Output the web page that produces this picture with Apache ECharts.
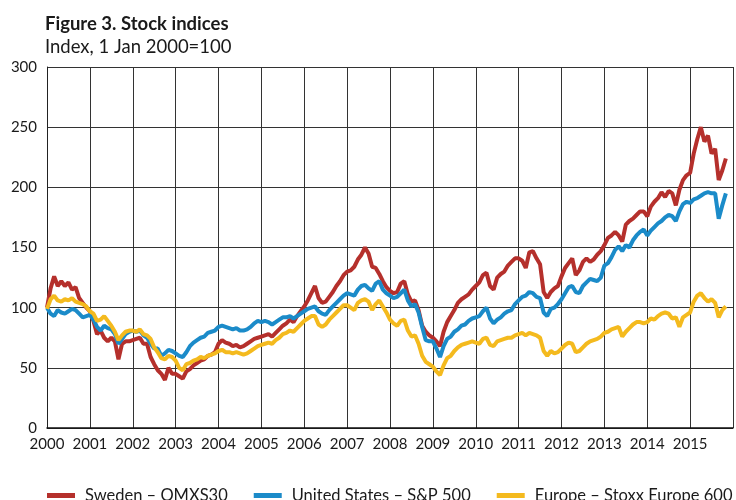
<!DOCTYPE html>
<html>
<head>
<meta charset="utf-8">
<script src="https://cdn.jsdelivr.net/npm/echarts@6/dist/echarts.min.js"></script>
<style>
  html, body { margin: 0; padding: 0; background: #fff; }
  #chart { width: 736px; height: 500px; }
</style>
</head>
<body>
<div id="chart"></div>
<script>
// monthly readings, Jan 2000 .. Nov 2015 (index, 1 Jan 2000 = 100)
var startYear = 2000;
var yearTicks = [2000, 2001, 2002, 2003, 2004, 2005, 2006, 2007, 2008, 2009, 2010, 2011, 2012, 2013, 2014, 2015];

var sweden = [
    100, 116, 126, 118, 122, 118, 121, 115, 117, 108, 104, 100,
    97, 89, 78, 81, 75, 72, 75, 72, 57, 70, 72, 72,
    73, 74, 75, 70, 70, 59, 53, 48, 45, 40, 50, 45,
    45, 43, 41, 47, 49, 52, 54, 56, 57, 60, 61, 63,
    70, 73, 71, 70, 68, 69, 67, 68, 70, 72, 74, 75,
    76, 77, 78, 76, 79, 82, 85, 87, 90, 88, 93, 97,
    101, 106, 112, 118, 108, 104, 105, 109, 113, 118, 122, 127,
    130, 131, 134, 140, 144, 150, 145, 134, 133, 128, 122, 117,
    114, 112, 113, 120, 122, 111, 105, 106, 98, 85, 80, 77,
    75, 72, 68, 80, 88, 93, 98, 104, 107, 109, 111, 115,
    118, 121, 127, 129, 118, 115, 125, 128, 130, 135, 138, 141,
    141, 139, 133, 146, 147, 141, 136, 113, 108, 113, 116, 118,
    126, 133, 137, 141, 127, 131, 138, 141, 138, 140, 144, 147,
    152, 158, 160, 163, 160, 155, 169, 172, 174, 177, 180, 180,
    176, 184, 188, 191, 196, 192, 197, 195, 185, 198, 206, 210,
    212, 228, 240, 250, 238, 243, 228, 232, 206, 214, 224
];

var unitedStates = [
    100, 95, 93, 98, 96, 95, 97, 99, 98, 95, 92, 93,
    94, 90, 84, 81, 85, 83, 82, 78, 70, 74, 78, 80,
    81, 80, 81, 77, 75, 70, 66, 66, 60, 62, 65, 64,
    62, 60, 59, 63, 68, 71, 73, 75, 76, 79, 80, 81,
    84, 85, 84, 83, 82, 83, 81, 81, 82, 84, 87, 89,
    88, 89, 88, 86, 88, 90, 92, 92, 93, 91, 93, 95,
    97, 99, 100, 101, 97, 95, 94, 98, 101, 104, 107, 110,
    112, 111, 110, 115, 118, 119, 116, 114, 120, 122, 115, 112,
    110, 108, 109, 112, 115, 106, 101, 103, 96, 84, 73, 72,
    72, 66, 59, 68, 74, 76, 80, 82, 85, 86, 89, 91,
    92, 93, 97, 100, 91, 87, 90, 92, 95, 97, 98, 103,
    106, 109, 110, 113, 112, 109, 108, 96, 93, 99, 100, 103,
    107, 112, 117, 118, 113, 112, 118, 121, 124, 123, 122, 125,
    135, 137, 142, 148, 151, 147, 152, 150, 156, 160, 163, 165,
    160, 164, 167, 170, 172, 175, 177, 176, 172, 180, 186, 188,
    187, 190, 191, 193, 195, 196, 195, 195, 174, 185, 195
];

var europe = [
    99, 107, 110, 106, 105, 107, 106, 108, 105, 104, 103, 101,
    97, 95, 89, 90, 93, 89, 85, 80, 73, 77, 80, 81,
    81, 80, 82, 78, 77, 74, 67, 63, 58, 57, 60, 59,
    56, 50, 48, 53, 54, 56, 57, 59, 58, 60, 61, 62,
    64, 65, 63, 63, 62, 63, 62, 61, 62, 64, 66, 68,
    69, 70, 71, 70, 73, 75, 78, 79, 81, 80, 83, 86,
    89, 91, 93, 93, 86, 84, 86, 90, 93, 96, 99, 102,
    102, 100, 98, 104, 106, 107, 105, 98, 103, 106, 101, 96,
    90, 87, 85, 89, 90, 81, 76, 77, 70, 60, 55, 53,
    51, 47, 44, 52, 58, 60, 64, 67, 69, 70, 71, 72,
    71, 70, 74, 75, 69, 68, 72, 73, 74, 75, 75, 77,
    78, 79, 77, 79, 78, 77, 75, 64, 60, 64, 62, 63,
    66, 69, 71, 70, 63, 64, 67, 70, 72, 73, 74, 76,
    79, 80, 82, 83, 84, 76, 80, 83, 86, 88, 88, 87,
    88, 91, 90, 93, 95, 96, 95, 91, 92, 84, 92, 94,
    96, 105, 110, 112, 108, 105, 107, 104, 92, 98, 101
];

var seriesNames = ['Sweden – OMXS30', 'United States – S&P 500', 'Europe – Stoxx Europe 600'];
var colors = ['#b5302c', '#1b8bc9', '#f4ba1e'];

function toPoints(arr) {
    return arr.map(function (v, i) { return [startYear + i / 12, v]; });
}

var myChart = echarts.init(document.getElementById('chart'));

var font = 'Lato, "Open Sans", sans-serif';

var option = {
    animation: false,
    color: colors,
    title: {
        text: 'Figure 3. Stock indices',
        subtext: 'Index, 1 Jan 2000=100',
        left: 40,
        top: 10,
        itemGap: 4,
        textStyle: { fontFamily: font, fontSize: 18.5, fontWeight: 'bold', color: '#1a1a1a' },
        subtextStyle: { fontFamily: font, fontSize: 18.5, color: '#1a1a1a' }
    },
    legend: {
        data: seriesNames,
        left: 42,
        top: 482,
        width: 694,
        icon: 'rect',
        itemWidth: 28,
        itemHeight: 5,
        itemGap: 26,
        textStyle: { fontFamily: font, fontSize: 16.5, color: '#1a1a1a', padding: [0, 0, 0, 5] }
    },
    grid: {
        left: 47,
        right: 1,
        top: 67,
        bottom: 72
    },
    xAxis: {
        type: 'value',
        min: 2000,
        max: 2016,
        interval: 1,
        axisLine: { show: true, lineStyle: { color: '#111', width: 1.5 } },
        axisTick: { show: false },
        splitLine: { show: true, lineStyle: { color: '#333', width: 1 } },
        axisLabel: {
            fontFamily: font,
            fontSize: 15,
            color: '#1a1a1a',
            margin: 9,
            formatter: function (v) { return yearTicks.indexOf(v) >= 0 ? String(v) : ''; }
        }
    },
    yAxis: {
        type: 'value',
        min: 0,
        max: 300,
        interval: 50,
        axisLine: { show: true, lineStyle: { color: '#222', width: 1 } },
        axisTick: { show: false },
        splitLine: { show: true, lineStyle: { color: '#333', width: 1 } },
        axisLabel: { fontFamily: font, fontSize: 15, color: '#1a1a1a', margin: 10 }
    },
    series: [
        { name: seriesNames[0], type: 'line', data: toPoints(sweden), showSymbol: false, lineStyle: { width: 4 } },
        { name: seriesNames[1], type: 'line', data: toPoints(unitedStates), showSymbol: false, lineStyle: { width: 4 } },
        { name: seriesNames[2], type: 'line', data: toPoints(europe), showSymbol: false, lineStyle: { width: 4 } }
    ]
};

myChart.setOption(option);
</script>
</body>
</html>
